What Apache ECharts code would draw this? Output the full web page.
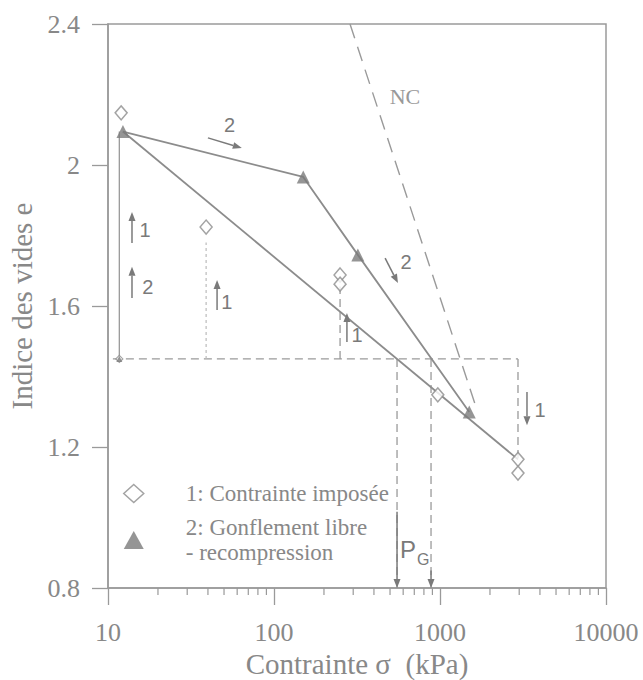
<!DOCTYPE html>
<html>
<head>
<meta charset="utf-8">
<script src="https://cdn.jsdelivr.net/npm/echarts@6/dist/echarts.min.js"></script>
<style>
  html, body { margin: 0; background: #fff; }
  #chart { width: 643px; height: 680px; }
</style>
</head>
<body>
<div id="chart"></div>
<script>
// 1: contrainte imposée (hollow diamonds) and its straight fit
var imposed = [[12, 2.148], [39, 1.824], [250, 1.688], [250, 1.662], [970, 1.348], [2950, 1.165], [2950, 1.126]];
var imposedLine = [[12.3, 2.095], [2950, 1.165]];
// 2: gonflement libre - recompression (filled triangles)
var freeSwell = [[12.3, 2.095], [150, 1.966], [320, 1.745], [1500, 1.299]];
// initial state e0
var initialPoint = [[11.7, 1.45]];
// normally consolidated line
var ncLine = [[287, 2.4], [1670, 1.305]];
// construction lines
var dashedGuides = [
  [[10.7, 1.45], [2950, 1.45]],
  [[2950, 1.45], [2950, 1.165]],
  [[551, 1.45], [551, 0.8]],
  [[883, 1.45], [883, 0.8]],
  [[250, 1.45], [250, 1.655]]
];
var dottedGuides = [[[39, 1.45], [39, 1.78]]];
var solidGuides = [[[11.7, 1.45], [11.7, 2.095]]];
// arrows: x1, y1, x2, y2 (head at the second point)
var arrows = [
  [40, 2.077, 64, 2.048],
  [467, 1.736, 558, 1.665],
  [13.95, 1.779, 13.95, 1.867],
  [13.95, 1.623, 13.95, 1.711],
  [45.4, 1.589, 45.4, 1.674],
  [275, 1.498, 275, 1.58],
  [3342, 1.356, 3342, 1.262],
  [551, 1.016, 551, 0.8],
  [883, 0.85, 883, 0.8]
];
var labelText = ['2', '2', '1', '2', '1', '1', '1', 'NC', 'PG'];
var labelPos = [[54, 2.113], [624, 1.725], [16.7, 1.816], [17.4, 1.654], [52, 1.611], [316, 1.518], [4000, 1.305], [615, 2.193], [574, 0.908]];
var minorTicks = [20, 30, 40, 50, 60, 70, 80, 90, 200, 300, 400, 500, 600, 700, 800, 900, 2000, 3000, 4000, 5000, 6000, 7000, 8000, 9000];

var name1 = '1: Contrainte imposée';
var name2 = '2: Gonflement libre\n- recompression';
var ink = '#7a7a7a', line = '#8c8c8c', txt = '#888', serif = '"Liberation Serif", "Times New Roman", serif', sans = '"Liberation Sans", Arial, sans-serif';

function guideSeries(list, type, color, width) {
  return list.map(function (pts) {
    return { type: 'line', data: pts, symbol: 'none', silent: true, z: 1,
      lineStyle: { color: color, width: width, type: type } };
  });
}

var chart = echarts.init(document.getElementById('chart'), null, { renderer: 'svg' });
var series = []
  .concat(guideSeries(dashedGuides, [8, 5], '#9a9a9a', 1.3))
  .concat(guideSeries(dottedGuides, [3, 3], '#bbbbbb', 1.2))
  .concat(guideSeries(solidGuides, 'solid', '#999', 1.3))
  .concat([
    { type: 'line', data: ncLine, symbol: 'none', silent: true, lineStyle: { color: '#9a9a9a', width: 1.4, type: [15, 9] } },
    { type: 'line', data: imposedLine, symbol: 'none', silent: true, lineStyle: { color: line, width: 1.8 } },
    { type: 'line', data: freeSwell, symbol: 'none', silent: true, lineStyle: { color: line, width: 1.8 } },
    { name: name1, type: 'scatter', data: imposed, symbol: 'diamond', symbolSize: [12, 14], z: 5,
      itemStyle: { color: '#fff', borderColor: line, borderWidth: 1.5 } },
    { name: name2, type: 'scatter', data: freeSwell, symbol: 'triangle', symbolSize: 13, z: 6,
      itemStyle: { color: ink } },
    { type: 'scatter', data: initialPoint, symbol: 'diamond', symbolSize: 7, z: 5,
      itemStyle: { color: '#fff', borderColor: line, borderWidth: 1.2 } },
    { type: 'scatter', data: initialPoint, symbol: 'triangle', symbolSize: 6, z: 6, itemStyle: { color: ink } },
    {
      type: 'custom', coordinateSystem: 'cartesian2d', clip: false, silent: true, z: 7,
      data: arrows, encode: { x: [0, 2], y: [1, 3] },
      renderItem: function (params, api) {
        var a = api.coord([api.value(0), api.value(1)]);
        var b = api.coord([api.value(2), api.value(3)]);
        var dx = b[0] - a[0], dy = b[1] - a[1], len = Math.sqrt(dx * dx + dy * dy);
        var ux = dx / len, uy = dy / len, hl = 9, hw = 3.5;
        var base = [b[0] - ux * hl, b[1] - uy * hl];
        return { type: 'group', children: [
          { type: 'line', shape: { x1: a[0], y1: a[1], x2: base[0], y2: base[1] }, style: { stroke: ink, lineWidth: 1.5 } },
          { type: 'polygon', shape: { points: [b, [base[0] - uy * hw, base[1] + ux * hw], [base[0] + uy * hw, base[1] - ux * hw]] }, style: { fill: ink } }
        ] };
      }
    },
    {
      type: 'custom', coordinateSystem: 'cartesian2d', clip: false, silent: true, z: 8,
      data: labelPos,
      renderItem: function (params, api) {
        var p = api.coord([api.value(0), api.value(1)]);
        var t = labelText[params.dataIndex];
        if (t === 'PG') {
          return { type: 'text', x: p[0], y: p[1], style: {
            text: '{p|P}{g|G}', align: 'left', verticalAlign: 'middle',
            rich: { p: { font: '24px ' + sans, fill: ink }, g: { font: '16px ' + sans, fill: ink, padding: [20, 0, 0, 1] } } } };
        }
        var font = t === 'NC' ? '22px ' + serif : '20px ' + sans;
        return { type: 'text', x: p[0], y: p[1], style: { text: t, font: font, fill: t === 'NC' ? '#999' : ink, align: 'center', verticalAlign: 'middle' } };
      }
    },
    {
      type: 'custom', coordinateSystem: 'cartesian2d', clip: false, silent: true,
      data: minorTicks.map(function (v) { return [v, 0.8]; }),
      renderItem: function (params, api) {
        var p = api.coord([api.value(0), api.value(1)]);
        return { type: 'line', shape: { x1: p[0], y1: p[1], x2: p[0], y2: p[1] + 7 }, style: { stroke: '#999', lineWidth: 1.2 } };
      }
    }
  ]);

chart.setOption({
  animation: false,
  backgroundColor: '#fff',
  grid: { left: 108, right: 37, top: 24, bottom: 92, show: true, borderColor: '#9a9a9a', borderWidth: 1.5, outerBoundsMode: 'none' },
  legend: {
    orient: 'vertical', left: 118, top: 476, itemWidth: 20, itemHeight: 18, itemGap: 9, selectedMode: false,
    textStyle: { fontFamily: serif, fontSize: 23, color: txt, lineHeight: 25, padding: [0, 0, 0, 37] },
    data: [
      { name: name1, icon: 'diamond', itemStyle: { color: '#fff', borderColor: line, borderWidth: 1.5 } },
      { name: name2, icon: 'triangle', itemStyle: { color: ink } }
    ]
  },
  xAxis: {
    type: 'log', logBase: 10, min: 10, max: 10000,
    name: 'Contrainte σ  (kPa)', nameLocation: 'middle', nameGap: 58,
    nameTextStyle: { fontFamily: serif, fontSize: 29, color: txt },
    axisLine: { lineStyle: { color: '#9a9a9a', width: 1.5 } },
    axisTick: { inside: false, length: 17, lineStyle: { color: '#9a9a9a', width: 1.3 } },
    axisLabel: { margin: 31, fontFamily: serif, fontSize: 26, color: txt, showMaxLabel: true, showMinLabel: true,
      formatter: function (v) { return String(Math.round(v)); } },
    splitLine: { show: false }, minorTick: { show: false }
  },
  yAxis: {
    type: 'value', min: 0.8, max: 2.4, interval: 0.4,
    name: 'Indice des vides e', nameLocation: 'middle', nameGap: 72,
    nameTextStyle: { fontFamily: serif, fontSize: 29, color: txt },
    axisLine: { show: true, lineStyle: { color: '#9a9a9a', width: 1.5 } },
    axisTick: { show: true, inside: false, length: 16, lineStyle: { color: '#9a9a9a', width: 1.3 } },
    axisLabel: { margin: 28, fontFamily: serif, fontSize: 26, color: txt },
    splitLine: { show: false }
  },
  series: series
});
window.addEventListener('resize', function () { chart.resize(); });
</script>
</body>
</html>
